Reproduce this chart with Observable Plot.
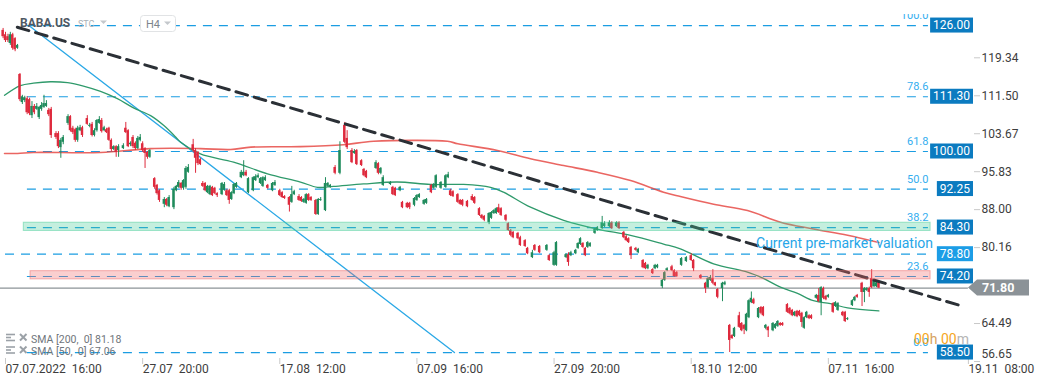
<!DOCTYPE html>
<html><head><meta charset="utf-8">
<script src="https://cdn.jsdelivr.net/npm/d3@7"></script>
<script src="https://cdn.jsdelivr.net/npm/@observablehq/plot@0.6"></script>
<style>
html,body{margin:0;padding:0;background:#fff;}
#chart{width:1041px;height:385px;}
svg text{white-space:pre;}
</style></head><body><div id="chart"></div>
<script>
// ---- candles (H4 bars, index = bar slot) ----
const bar = [
0,1,2,3,4,5,6,7,8,9,
10,11,12,13,14,15,16,17,18,19,
20,22,23,24,25,27,28,29,30,31,
32,33,35,36,37,38,39,40,41,42,
43,44,45,46,47,48,50,51,52,53,
54,55,56,57,58,59,60,61,63,64,
65,67,68,69,71,72,73,74,75,76,
77,79,80,81,82,83,84,85,86,87,
88,89,91,92,93,94,95,96,97,99,
100,101,102,104,105,106,107,108,109,110,
112,113,115,116,117,119,120,121,123,124,
125,126,127,128,130,131,132,134,135,136,
138,140,142,143,145,146,147,149,150,151,
155,156,157,158,161,162,163,165,166,168,
169,171,172,173,175,176,178,179,180,182,
184,185,186,187,189,190,191,193,195,196,
198,199,200,202,203,204,205,206,207,209,
210,211,212,214,215,217,218,220,221,223,
226,227,229,230,234,235,236,238,239,240,
241,242,243,244,246,247,249,250,252,253,
255,256,258,259,260,261,263,264,266,267,
268,270,271,272,274,275,276,278,279,280,
282,284,286,287,290,292,293,294,295,296,
297,299,300,302,303,304,306,307,308,309,
310,311,312,314,315,316,317,318,320,321,
322,323,324,326,327,328,329,330,331,332,
333,334,335,336,338,339,340,341,342,343,
345,346,347,349,350,351,353,354,355,357,
358,359,360,361,362,363,364];
const open = [
125.0,124.1,123.7,122.3,124.1,123.3,121.3,115.9,110.1,110.5,
110.9,110.7,107.4,109.3,108.7,107.0,108.7,109.1,109.3,108.5,
108.7,103.7,103.7,100.8,101.9,105.8,107.2,104.8,104.5,102.3,
104.3,104.9,106.8,105.2,105.6,103.3,104.3,105.8,106.4,104.3,
104.5,104.8,102.3,100.4,101.0,100.2,100.6,104.8,104.3,101.4,
102.9,101.7,100.6,102.3,101.6,100.6,99.8,98.8,94.4,93.0,
91.9,89.1,90.1,88.6,88.4,91.9,92.6,93.4,92.4,92.6,
95.7,101.4,100.2,99.8,98.3,93.4,93.4,91.5,91.1,92.6,
92.4,91.3,91.1,92.0,91.9,91.9,90.1,91.3,92.6,94.6,
95.0,95.7,91.5,91.9,94.0,94.6,93.4,92.8,94.0,93.0,
91.9,93.0,91.9,91.5,90.7,90.5,89.5,91.1,90.7,90.5,
89.5,89.3,91.1,90.5,89.9,87.0,89.9,87.8,92.8,92.6,
96.7,95.5,105.4,102.7,100.2,99.6,100.2,98.1,96.3,95.9,
96.5,97.5,95.5,93.0,93.2,92.6,92.4,91.9,89.5,89.3,
89.3,88.9,89.9,90.5,89.1,89.3,93.0,92.4,92.6,92.4,
92.6,94.6,91.9,91.7,91.1,89.9,89.9,89.7,90.7,90.5,
88.2,86.8,86.6,85.3,86.2,87.2,87.2,88.4,88.2,86.8,
85.1,83.7,83.3,83.1,82.2,81.6,80.0,78.1,80.6,80.4,
79.6,78.5,76.5,76.5,78.1,78.7,78.5,78.9,80.0,80.8,
81.0,80.0,80.2,80.4,83.1,83.7,84.1,84.5,84.5,85.3,
84.5,85.3,83.3,82.4,82.0,80.2,80.0,79.1,77.5,76.9,
75.8,75.6,75.8,76.0,72.1,73.4,75.4,76.2,75.4,75.0,
76.5,77.3,78.5,77.5,74.4,72.8,71.9,73.4,73.8,72.9,
71.5,71.7,72.5,64.1,62.0,61.8,66.1,64.5,64.1,63.0,
65.7,68.8,69.4,65.7,67.8,67.8,63.5,63.7,63.0,63.5,
63.9,64.5,64.5,68.4,67.6,67.2,66.1,67.0,67.0,66.6,
63.5,65.7,66.1,66.1,69.7,70.3,68.8,71.7,70.1,69.9,
68.6,68.0,67.2,66.8,66.8,65.3,68.2,69.2,70.3,72.8,
70.9,71.3,71.7,73.8,72.1,72.1,72.9];
const high = [
125.4,124.6,124.2,124.6,124.4,123.5,122.1,116.1,111.6,111.4,
111.3,111.0,110.3,109.7,109.9,109.3,110.1,111.6,110.5,108.9,
109.1,104.1,104.1,102.7,103.3,107.6,107.4,105.2,104.8,105.2,
105.4,105.2,107.4,105.8,106.0,104.7,106.6,107.2,106.8,105.2,
104.8,105.0,102.6,101.2,101.2,101.4,101.6,106.0,104.5,102.0,
103.3,102.0,103.1,103.5,102.0,100.8,100.0,100.4,94.6,93.2,
92.1,90.5,90.3,90.9,92.6,93.0,94.0,93.6,94.2,96.9,
97.3,102.5,100.6,100.0,98.6,93.8,93.6,93.0,93.0,92.8,
92.6,91.5,93.6,93.6,92.2,92.2,91.7,93.4,93.6,96.1,
98.1,96.1,94.6,94.8,95.2,95.4,94.6,94.8,95.0,93.2,
93.6,94.0,92.2,91.7,90.9,90.7,92.8,92.0,91.1,90.7,
90.3,91.3,91.3,90.7,90.1,90.3,90.5,94.6,93.6,93.2,
97.1,102.0,106.0,104.3,100.6,100.4,100.4,98.3,96.5,96.1,
98.1,97.7,96.7,95.0,93.8,92.8,92.6,92.8,89.7,89.5,
89.5,90.5,91.1,91.3,90.1,90.3,93.2,93.4,95.2,93.8,
95.2,95.7,92.2,91.9,91.3,90.1,90.1,89.9,91.1,90.7,
88.4,87.0,86.8,87.4,87.6,88.0,88.4,89.1,88.4,87.0,
85.3,83.9,83.5,83.3,82.5,81.8,80.2,79.6,80.8,80.6,
80.8,78.7,79.4,81.4,78.9,79.1,79.4,79.8,81.2,82.2,
81.2,80.2,81.4,81.2,84.1,84.5,86.6,85.5,85.7,85.5,
85.5,85.5,83.5,82.7,82.2,80.4,80.2,80.0,77.7,77.1,
76.7,75.8,76.7,76.7,73.6,75.2,76.0,76.5,75.6,75.2,
78.1,78.3,78.9,77.7,74.6,73.0,74.0,74.4,75.6,73.0,
71.7,73.0,73.2,64.3,62.2,63.7,66.8,64.7,64.3,66.6,
69.4,71.0,69.7,67.8,68.0,68.0,64.3,63.9,64.7,64.5,
65.1,64.7,64.7,68.6,67.8,67.4,67.0,67.2,67.2,66.8,
65.9,67.0,66.3,66.3,70.5,71.7,72.1,72.0,70.3,70.5,
68.8,69.0,68.8,67.0,67.0,65.7,69.4,70.1,70.5,73.0,
71.9,71.9,72.0,75.6,73.4,73.2,73.0];
const low = [
123.3,122.5,122.5,121.9,120.9,120.6,121.1,110.3,109.7,110.1,
107.6,107.4,106.8,107.6,108.5,106.6,108.3,108.9,109.1,107.2,
102.7,102.5,100.6,98.6,101.4,105.4,104.0,103.5,101.9,101.9,
104.1,102.9,105.4,104.9,103.0,103.0,104.0,105.6,103.8,104.1,
103.7,102.1,100.0,100.2,98.8,98.8,100.4,103.7,100.8,101.0,
100.6,100.2,100.4,102.0,99.8,96.5,98.4,98.6,92.2,91.0,
89.5,88.4,88.6,88.4,88.0,91.7,92.4,92.0,92.0,92.2,
95.5,99.8,95.5,97.1,97.1,92.6,91.7,91.3,90.9,90.7,
91.1,90.5,90.9,91.8,90.7,89.1,89.9,91.1,92.4,94.4,
94.8,94.8,91.3,91.7,93.8,94.4,93.2,92.6,93.8,92.2,
91.7,92.8,90.7,90.3,90.1,87.5,89.3,90.9,89.7,89.5,
89.3,89.1,89.7,89.7,86.8,86.8,89.7,87.6,92.6,92.4,
95.2,95.2,101.6,100.4,97.5,99.4,97.1,96.9,94.8,94.4,
96.3,95.2,95.2,92.8,93.0,90.9,90.7,91.7,88.2,88.2,
88.0,88.6,89.7,90.3,88.9,89.1,91.3,92.2,92.4,92.2,
92.4,94.4,90.7,90.5,89.3,88.9,88.6,88.4,89.7,89.1,
86.6,86.0,85.5,84.9,86.0,87.0,87.0,87.2,86.6,85.5,
83.5,82.4,82.0,81.8,80.4,80.2,78.7,77.9,79.4,78.9,
79.4,77.3,76.3,76.3,77.9,76.3,78.3,78.7,79.8,80.6,
80.0,78.3,80.0,80.2,82.9,83.5,83.9,84.3,84.3,83.9,
84.3,83.9,82.0,81.4,81.0,77.7,79.4,78.9,75.8,75.6,
75.6,74.6,75.6,75.8,71.7,73.2,75.2,75.2,74.0,74.0,
76.3,77.1,77.3,75.2,73.6,70.7,71.7,73.2,72.5,72.1,
69.6,69.0,72.3,58.5,61.2,61.6,63.5,62.8,62.2,62.8,
65.5,68.6,68.4,65.5,66.3,65.9,63.2,61.6,62.8,63.3,
63.7,63.9,63.9,66.6,66.3,65.9,65.9,65.7,65.9,63.7,
63.3,65.5,65.3,65.3,69.5,68.8,66.1,69.4,69.2,69.7,
66.6,67.8,67.0,65.9,64.7,65.1,68.0,69.0,69.7,68.0,
68.8,71.1,69.9,71.7,71.9,71.9,71.7];
const close = [
123.7,122.9,122.9,124.1,121.3,121.0,121.9,110.7,111.3,111.1,
108.0,107.8,109.3,108.0,109.3,109.1,109.5,109.9,109.9,107.6,
103.3,102.9,101.0,102.3,102.9,107.2,104.3,103.9,102.3,104.8,
104.9,103.3,105.6,105.4,103.3,104.3,106.4,106.6,104.1,104.9,
103.9,102.3,100.4,101.0,99.8,101.0,101.2,103.9,101.0,101.7,
101.0,100.6,102.7,102.9,100.2,99.6,98.8,100.2,92.6,91.3,
89.9,90.1,88.9,90.5,92.2,92.8,93.6,92.4,94.0,96.5,
96.7,100.2,98.6,97.5,97.3,92.8,91.9,92.8,92.8,90.9,
91.3,90.9,93.4,93.2,90.9,89.9,91.5,93.2,93.4,95.7,
95.7,95.0,94.4,94.6,94.8,95.0,94.4,94.6,94.6,92.4,
93.4,93.6,90.9,90.5,90.3,88.9,91.1,91.7,89.9,89.7,
90.1,91.1,89.9,89.9,87.0,90.1,90.1,93.4,93.4,93.0,
95.5,100.2,101.9,100.8,97.7,100.0,97.3,97.1,95.0,94.6,
97.7,95.5,96.5,94.6,93.6,91.1,90.9,92.6,88.4,88.4,
88.4,90.3,90.9,91.1,89.9,90.1,91.5,93.2,95.0,93.6,
95.0,95.2,90.9,90.7,89.5,89.1,88.9,88.6,89.9,89.3,
86.8,86.2,85.8,87.2,87.4,87.8,88.2,87.4,86.8,85.8,
83.7,82.7,82.2,82.0,80.6,80.4,78.9,79.1,79.6,79.1,
80.6,77.5,79.1,81.2,78.7,77.1,79.1,79.6,81.0,82.0,
80.2,78.5,81.2,81.0,83.9,84.3,85.3,85.1,85.3,84.1,
85.3,84.1,82.2,81.6,81.2,78.5,79.6,79.8,76.0,75.8,
76.5,74.8,76.5,76.5,73.4,75.0,75.8,75.4,74.2,74.2,
77.9,78.1,77.5,75.8,73.8,71.7,73.8,74.0,72.8,72.3,
69.9,72.8,72.9,61.0,61.4,63.5,63.7,63.0,63.3,66.4,
69.2,69.7,68.6,67.6,66.6,66.1,64.1,63.0,64.5,64.3,
64.9,64.1,64.1,66.8,66.5,66.1,66.8,65.9,66.1,64.7,
65.7,66.8,65.5,65.5,70.3,69.0,71.9,69.7,69.4,70.3,
66.8,68.8,68.6,66.1,64.9,65.5,69.2,69.9,69.9,70.9,
71.7,71.7,70.9,71.9,73.2,72.9,71.8];

// ---- moving averages ----
const sma200Bar = [0.6,6,12.6,40.5,61.3,82,94.6,103,123.6,141.5,154,184.7,189,205.5,219.2,233,247,260.8,274.5,281.5,295.3,309.4,323.1,336.8,351,364];
const sma200 = [99.6,99.6,99.8,99.8,100.6,100.6,100.4,100.9,101.0,101.4,102.1,102.1,101.6,100.2,98.5,97.1,95.7,94.0,91.6,90.7,89.1,87.8,85.4,84.0,82.7,81.2];
const sma50Bar = [0.6,7.2,12.6,19.7,26.8,33.4,40.5,47.5,54.2,61.3,66.7,71.7,73.8,82,95.8,109.9,123.6,130.7,137.3,149.8,163.9,177.6,191.4,202.6,208,219.2,233,247,260.8,274.5,281.5,295.3,309.4,316,323.1,330.2,336.8,343.9,351,364];
const sma50 = [111.6,113.6,114.1,114.4,114.2,113.5,112.4,110.9,109.0,107.4,105.4,103.0,101.9,99.5,97.8,95.4,93.7,92.6,92.8,93.3,93.7,93.2,93.2,92.6,91.6,88.5,85.8,84.0,82.7,80.9,79.9,76.8,75.1,73.8,72.0,70.7,69.2,68.6,67.7,67.1];
const legendNames = ["SMA [200,  0]", "SMA [50,  0]"];
const legendValues = [81.18, 67.06];

// ---- drawings ----
const trendBar = [5.9, 399.2], trendPrice = [125.66, 68.0];
const fibLineBar = [10.7, 187.6], fibLinePrice = [126.0, 58.5];
const fibLevels = [126.0, 111.3, 100.0, 92.25, 84.3, 74.2, 58.5];
const fibRatios = ["100.0","78.6","61.8","50.0","38.2","23.6","0.0"];
const fibSpan = [10.1, 384.6];
const premarket = 78.8, premarketSpan = [1.0, 384.6], premarketText = "Current pre-market valuation";
const lastPrice = 71.8, lastSpan = [-1.08, 401.2];
const zoneLow = [83.6, 73.6], zoneHigh = [85.3, 75.3], zoneStart = [8.6, 11.4], zoneEnd = 385.5;
const zoneColor = ["rgb(72,205,152)", "rgb(238,105,105)"];

// ---- axes (72.33 sits under the last-price box) ----
const yTicks = [119.34, 111.50, 103.67, 95.83, 88.00, 80.16, 64.49, 56.65];
const xTickBars = [1, 58, 115, 172, 229, 286, 343, 401.2];
const xTickLabels = ["07.07.2022  16:00","27.07  20:00","17.08  12:00","07.09  16:00","27.09  20:00","18.10  12:00","07.11  16:00","19.11  08:00"];

const UP = "#1f8b5c", DOWN = "#de2a3d";
const candles = bar.map((b,k)=>({bar:b, open:open[k], high:high[k], low:low[k], close:close[k]}));
const col = d => d.close >= d.open ? UP : DOWN;
const pts = (xs, ys) => xs.map((b,k)=>({bar:b, v:ys[k]}));
const zones = zoneLow.map((lo,k)=>({x1:zoneStart[k], x2:zoneEnd, y1:lo, y2:zoneHigh[k], c:zoneColor[k]}));

const chart = Plot.plot({
  width: 1041, height: 385,
  marginLeft: 0, marginRight: 68, marginTop: 0, marginBottom: 27,
  x: {type: "linear", domain: [-1.0806, 403.33]},
  y: {type: "linear", domain: [57.27, 131.17]},
  color: {type: "identity"},
  style: {fontFamily: "Roboto, sans-serif", fontSize: "12px", background: "#fff", overflow: "visible"},
  marks: [
    Plot.ruleY(fibLevels, {y: d=>d, x1: ()=>fibSpan[0], x2: ()=>fibSpan[1], stroke: "#1b9de2", strokeWidth: 1.2, strokeDasharray: "9,7"}),
    Plot.ruleY([premarket], {y: d=>d, x1: ()=>premarketSpan[0], x2: ()=>premarketSpan[1], stroke: "#1b9de2", strokeWidth: 1.2, strokeDasharray: "9,7"}),
    Plot.ruleY([lastPrice], {y: d=>d, x1: ()=>lastSpan[0], x2: ()=>lastSpan[1], stroke: "#8c9397", strokeWidth: 1.2}),
    Plot.line(pts(fibLineBar, fibLinePrice), {x: "bar", y: "v", stroke: "#2aa8e6", strokeWidth: 1.3}),
    Plot.line(pts(sma200Bar, sma200), {x: "bar", y: "v", stroke: "#e5403b", strokeOpacity: 0.8, strokeWidth: 1.6, curve: "catmull-rom"}),
    Plot.line(pts(sma50Bar, sma50), {x: "bar", y: "v", stroke: "#2f9a6b", strokeWidth: 1.3, curve: "catmull-rom"}),
    Plot.ruleX(candles, {x: "bar", y1: "low", y2: "high", stroke: col, strokeWidth: 1}),
    Plot.rect(candles, {x1: d=>d.bar-0.5, x2: d=>d.bar+0.5, y1: "open", y2: "close", fill: col}),
    Plot.line(pts(trendBar, trendPrice), {x: "bar", y: "v", stroke: "#2b3036", strokeWidth: 3, strokeDasharray: "12,7"}),
    Plot.rect(zones, {x1: "x1", x2: "x2", y1: "y1", y2: "y2", fill: "c", fillOpacity: 0.32, stroke: "c", strokeOpacity: 0.5}),
    Plot.text(fibLevels, {x: ()=>fibSpan[1], y: d=>d, text: (d,i)=>fibRatios[i], textAnchor: "end", dy: -10, fill: "#35aeef", fontSize: 11}),
    Plot.text([premarketText], {x: ()=>386.5, y: ()=>premarket, text: d=>d, textAnchor: "end", dy: -10.5, fill: "#27a6e8", fontSize: 14}),
    Plot.axisX({ticks: xTickBars, tickFormat: d => xTickLabels[xTickBars.indexOf(d)], anchor: "bottom", tickSize: 6, tickPadding: 0, textAnchor: "start", fontSize: 12, fill: "#3d3d3d", stroke: "#c9c9c9", label: null}),
    Plot.axisY({ticks: yTicks, tickFormat: d => d.toFixed(2), anchor: "right", tickSize: 6, tickPadding: 2, fontSize: 12, fill: "#3d3d3d", stroke: "#c9c9c9", label: null})
  ]
});
document.getElementById("chart").appendChild(chart);

const svg = d3.select(chart);
const yS = chart.scale("y");
const ff = "Roboto, sans-serif";
// shift last tick label up (as in reference)
svg.selectAll("text").filter(function(){ return this.textContent === "56.65"; }).attr("transform", function(){ const t = d3.select(this).attr("transform") || ""; return t + " translate(0,-7)"; });

// hide top of "100.0"
svg.append("rect").attr("x", 890).attr("y", 0).attr("width", 41).attr("height", 14).attr("fill", "#fff");

// level boxes
const boxVals = fibLevels.concat([premarket]);
const boxCols = fibLevels.map(()=>"#0b7bc0").concat(["#1c9de6"]);
const gB = svg.append("g").attr("font-size", 12).attr("font-family", ff);
boxVals.forEach((v,k)=>{
  const yy = yS.apply(v);
  const r = gB.append("rect").attr("fill", boxCols[k]);
  const t = gB.append("text").attr("x", 970).attr("y", yy).attr("dy", "0.35em").attr("text-anchor", "end").attr("fill", "#fff").text(v.toFixed(2));
  const w = t.node().getComputedTextLength();
  r.attr("x", 970 - w - 3).attr("y", yy - 7.5).attr("width", w + 6).attr("height", 15);
});
// last price label
const yl = yS.apply(lastPrice);
svg.append("path").attr("d", `M968,${yl} L977,${yl-8} L1029,${yl-8} L1029,${yl+8} L977,${yl+8} Z`).attr("fill", "#8b9297");
svg.append("text").attr("x", 982).attr("y", yl).attr("dy", "0.36em").attr("text-anchor", "start").attr("fill", "#fff").attr("font-weight", "bold").attr("font-size", 12.5).attr("font-family", ff).text(lastPrice.toFixed(2));

// header
svg.append("text").attr("x", 20).attr("y", 27).attr("text-anchor", "start").attr("font-size", 12).attr("font-weight", "bold").attr("fill", "#505862").attr("font-family", ff).text("BABA.US");
svg.append("text").attr("x", 78).attr("y", 27).attr("text-anchor", "start").attr("font-size", 9).attr("fill", "#a9b0b6").attr("font-family", ff).text("STC");
svg.append("path").attr("d", "M100,20.5 L107,20.5 L103.5,24 Z").attr("fill", "#c4c8cc");
svg.append("rect").attr("x", 140.5).attr("y", 15.5).attr("width", 35).attr("height", 16).attr("rx", 3).attr("fill", "#fff").attr("stroke", "#e1e3e5");
svg.append("text").attr("x", 146).attr("y", 27.5).attr("text-anchor", "start").attr("font-size", 11).attr("fill", "#7d858c").attr("font-family", ff).text("H4");
svg.append("path").attr("d", "M164,21.5 L171,21.5 L167.5,25 Z").attr("fill", "#c4c8cc");

// SMA legend
[342.5, 355].forEach((b,k)=>{
  const g = svg.append("g").attr("stroke", "#9ba1a7");
  [b-8, b-5, b-2].forEach((yy,j)=>{
    g.append("line").attr("x1", 6).attr("x2", j===1 ? 11 : 15).attr("y1", yy).attr("y2", yy).attr("stroke-width", 1.6);
  });
  g.append("line").attr("x1", 20).attr("y1", b-8.5).attr("x2", 26.5).attr("y2", b-2).attr("stroke-width", 2);
  g.append("line").attr("x1", 26.5).attr("y1", b-8.5).attr("x2", 20).attr("y2", b-2).attr("stroke-width", 2);
  svg.append("text").attr("x", 31).attr("y", b).attr("text-anchor", "start").attr("font-size", 10.5).attr("fill", "#6f757b").attr("font-family", ff)
    .text(legendNames[k] + " " + legendValues[k].toFixed(2));
});

// countdown
const tm = svg.append("text").attr("x", 914).attr("y", 343.5).attr("text-anchor", "start").attr("font-size", 14).attr("font-family", ff);
tm.append("tspan").attr("fill", "#f5a623").text("00");
tm.append("tspan").attr("fill", "#d6a25e").text("h ");
tm.append("tspan").attr("fill", "#f5a623").text("00");
tm.append("tspan").attr("fill", "#b5b5b5").text("m");
</script></body></html>
